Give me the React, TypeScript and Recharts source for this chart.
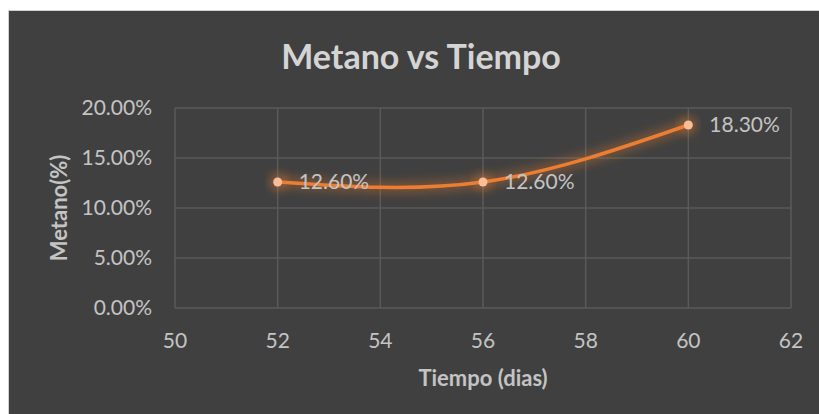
import { LineChart, Line, XAxis, YAxis, CartesianGrid, Label } from "recharts";

const dias = [52, 56, 60];
const metano = [0.126, 0.126, 0.183];
const xTicks = [50, 52, 54, 56, 58, 60, 62];
const yTicks = [0, 0.05, 0.1, 0.15, 0.2];

const data = dias.map((d, i) => ({ dias: d, metano: metano[i] }));

const FONT = "Lato, 'Open Sans', sans-serif";
const pct = (v: number) => `${(v * 100).toFixed(2)}%`;

const renderLabel = (props: any) => {
  const { x, y, value } = props;
  return (
    <text x={x + 21} y={y + 7} fill="#c4c4c4" fontSize={21} fontFamily={FONT}>
      {pct(value)}
    </text>
  );
};

const App = () => {
  return (
    <div
      style={{
        position: "absolute",
        left: 8,
        top: 10,
        width: 811,
        height: 404,
        background: "#404040",
        borderTop: "1px solid #d0d0d0",
        borderLeft: "1px solid #d0d0d0",
        boxSizing: "border-box",
        fontFamily: FONT,
      }}
    >
      <div
        style={{
          position: "absolute",
          top: 24,
          left: 0,
          width: 824,
          textAlign: "center",
          color: "#d4d4d4",
          fontWeight: 700,
          fontSize: 34,
        }}
      >
        Metano vs Tiempo
      </div>
      <LineChart width={810} height={403} data={data} margin={{ top: 97, right: 28, bottom: 26, left: 65 }}>
        <defs>
          <filter id="glow" x="-20%" y="-50%" width="140%" height="200%">
            <feGaussianBlur in="SourceGraphic" stdDeviation="5" />
          </filter>
        </defs>
        <CartesianGrid stroke="#5a5a5a" strokeWidth={1.5} />
        <XAxis
          dataKey="dias"
          type="number"
          domain={[50, 62]}
          ticks={xTicks}
          axisLine={false}
          tickLine={false}
          tickMargin={19}
          height={80}
          tick={{ fill: "#c4c4c4", fontSize: 21, fontFamily: FONT }}
        >
          <Label
            value="Tiempo (dias)"
            position="insideBottom"
            offset={2}
            fill="#c4c4c4"
            fontSize={22}
            fontWeight={700}
            fontFamily={FONT}
          />
        </XAxis>
        <YAxis
          type="number"
          domain={[0, 0.2]}
          ticks={yTicks}
          tickFormatter={pct}
          axisLine={false}
          tickLine={false}
          tickMargin={17}
          width={101}
          tick={{ fill: "#c4c4c4", fontSize: 21, fontFamily: FONT }}
        >
          <Label
            value="Metano(%)"
            angle={-90}
            position="insideLeft"
            offset={-15}
            fill="#c4c4c4"
            fontSize={22}
            fontWeight={700}
            fontFamily={FONT}
            style={{ textAnchor: "middle" }}
          />
        </YAxis>
        {/* soft orange halo under the series */}
        <Line
          dataKey="metano"
          type="natural"
          stroke="#ED7D31"
          strokeWidth={12}
          strokeOpacity={0.3}
          style={{ filter: "url(#glow)" }}
          dot={{ r: 9, fill: "#ED7D31", fillOpacity: 0.35, stroke: "none", style: { filter: "url(#glow)" } }}
          activeDot={false}
          isAnimationActive={false}
        />
        <Line
          dataKey="metano"
          type="natural"
          stroke="#ED7D31"
          strokeWidth={3.5}
          dot={{ r: 4.5, fill: "#F9BE96", stroke: "none" }}
          activeDot={false}
          label={renderLabel}
          isAnimationActive={false}
        />
      </LineChart>
    </div>
  );
};

export default App;
